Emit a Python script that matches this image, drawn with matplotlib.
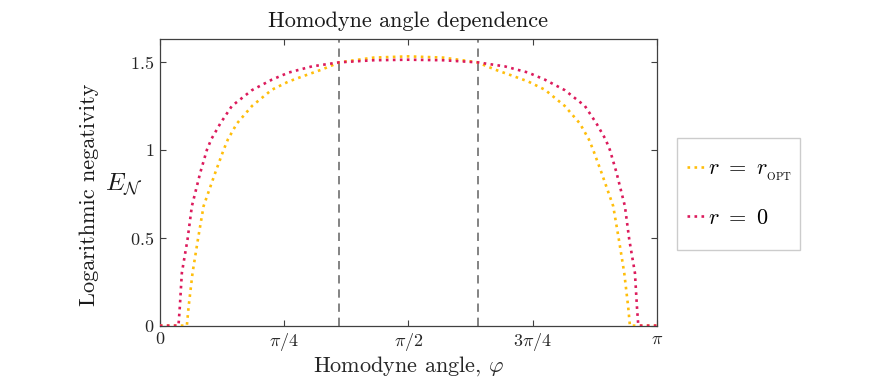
"""Homodyne angle dependence of the logarithmic negativity."""
import matplotlib
matplotlib.use('Agg')
import matplotlib.pyplot as plt
from matplotlib.patches import Rectangle
import numpy as np

YELLOW = '#FFBE0B'
MAGENTA = '#DC1B5C'
GREY = '#6E6E6E'

# homodyne angle in units of pi, log-negativity
phi_opt = [0.0, 0.0544, 0.058, 0.0658, 0.0766, 0.088, 0.1115, 0.1283, 0.137,
           0.155, 0.1855, 0.2253, 0.259, 0.292, 0.326, 0.361, 0.43, 0.50,
           0.57, 0.639, 0.674, 0.708, 0.741, 0.7747, 0.8145, 0.845, 0.863,
           0.8717, 0.8885, 0.912, 0.9234, 0.9342, 0.942, 0.9456, 1.0]
en_opt = [0.0, 0.0, 0.11, 0.30, 0.49, 0.68, 0.87, 1.00, 1.06,
          1.15, 1.25, 1.342, 1.389, 1.423, 1.457, 1.498, 1.525, 1.532,
          1.525, 1.498, 1.457, 1.423, 1.389, 1.342, 1.25, 1.15, 1.06,
          1.00, 0.87, 0.68, 0.49, 0.30, 0.11, 0.0, 0.0]

phi_zero = [0.0, 0.0375, 0.0403, 0.0443, 0.0557, 0.0645, 0.0813, 0.0947, 0.1034,
            0.1216, 0.145, 0.1855, 0.2258, 0.2593, 0.306, 0.361, 0.43, 0.50,
            0.57, 0.639, 0.694, 0.7407, 0.7742, 0.8145, 0.855, 0.8784, 0.8966,
            0.9053, 0.9187, 0.9355, 0.9443, 0.9557, 0.9597, 0.9625, 1.0]
en_zero = [0.0, 0.0, 0.11, 0.30, 0.49, 0.68, 0.87, 1.00, 1.06,
           1.15, 1.25, 1.34, 1.40, 1.44, 1.475, 1.498, 1.510, 1.513,
           1.510, 1.498, 1.475, 1.44, 1.40, 1.34, 1.25, 1.15, 1.06,
           1.00, 0.87, 0.68, 0.49, 0.30, 0.11, 0.0, 0.0]

vlines = [0.361, 0.641]
xticks = [0, 0.25, 0.5, 0.75, 1.0]
xtick_labels = ['$0$', r'$\pi/4$', r'$\pi/2$', r'$3\pi/4$', r'$\pi$']
yticks = [0, 0.5, 1, 1.5]
ytick_labels = ['$0$', '$0.5$', '$1$', '$1.5$']

plt.rcParams['mathtext.fontset'] = 'cm'
plt.rcParams['font.family'] = 'serif'
plt.rcParams['font.serif'] = ['cmr10', 'DejaVu Serif']
plt.rcParams['axes.formatter.use_mathtext'] = True

fig = plt.figure(figsize=(8.83, 3.80), dpi=100)
ax = fig.add_axes([0.181, 0.143, 0.563, 0.754])

pi = np.pi
ax.plot(np.array(phi_opt) * pi, en_opt, ls=':', lw=1.9, color=YELLOW,
        label=r'$r\ =\ r_{_{\mathrm{OPT}}}$', zorder=3)
ax.plot(np.array(phi_zero) * pi, en_zero, ls=':', lw=1.9, color=MAGENTA,
        label=r'$r\ =\ 0$', zorder=3)
for v in vlines:
    ax.axvline(v * pi, color=GREY, ls=(0, (5, 3.5)), lw=1.2, zorder=2)

ax.set_xlim(0, pi)
ax.set_ylim(0, 1.63)
ax.set_xticks(np.array(xticks) * pi)
ax.set_xticklabels(xtick_labels, fontsize=13)
ax.set_yticks(yticks)
ax.set_yticklabels(ytick_labels, fontsize=13)
ax.tick_params(direction='in', top=True, right=True, length=4,
               color='#404040', labelcolor='#262626', pad=4)
for s in ax.spines.values():
    s.set_color('#404040')
    s.set_linewidth(0.9)

ax.set_title('Homodyne angle dependence', fontsize=16, color='#1a1a1a', pad=9)
ax.set_xlabel(r'Homodyne angle, $\varphi$', fontsize=16, color='#262626', labelpad=1)
fig.text(0.101, 0.487, 'Logarithmic negativity', rotation=90, fontsize=16,
         color='#1a1a1a', ha='center', va='center')
fig.text(0.140, 0.513, r'$E_{\mathcal{N}}$', fontsize=18, color='#1a1a1a',
         ha='center', va='center')

# legend box drawn separately so its margins match the reference
fig.patches.append(Rectangle((0.7667, 0.342), 0.1393, 0.295, transform=fig.transFigure,
                             facecolor='white', edgecolor='#cccccc', lw=1.0))
leg = fig.legend(loc='center', bbox_to_anchor=(0.838, 0.491), fontsize=16,
                 handlelength=0.85, handletextpad=0.1, labelspacing=1.15,
                 frameon=False)

plt.savefig('out.png', dpi=100, facecolor='white')
plt.close(fig)
